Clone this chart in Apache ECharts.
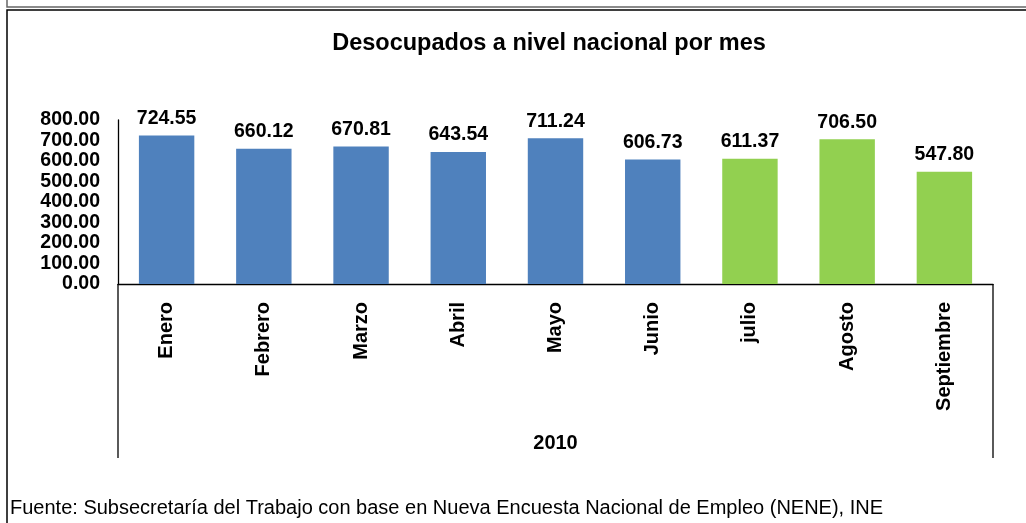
<!DOCTYPE html>
<html>
<head>
<meta charset="utf-8">
<script src="https://cdn.jsdelivr.net/npm/echarts@6/dist/echarts.min.js"></script>
<style>html,body{margin:0;padding:0;background:#fff}#c{width:1026px;height:523px}</style>
</head>
<body>
<div id="c"></div>
<script>
const categories = ['Enero','Febrero','Marzo','Abril','Mayo','Junio','julio','Agosto','Septiembre'];
const values = [724.55, 660.12, 670.81, 643.54, 711.24, 606.73, 611.37, 706.50, 547.80];
const yearLabel = '2010';
const titleText = 'Desocupados a nivel nacional por mes';
const sourceText = 'Fuente: Subsecretaría del Trabajo con base en Nueva Encuesta Nacional de Empleo (NENE), INE';

const FONT = '"Liberation Sans", Arial, sans-serif';
const GL = 118, GR = 33, GT = 120, GB = 239;
const W = 1026, H = 523;
const chart = echarts.init(document.getElementById('c'), null, {renderer: 'canvas'});
const frame = [
  {type: 'rect', shape: {x: 7, y: -10, width: W + 60, height: 17}, style: {fill: 'none', stroke: '#666', lineWidth: 1.5}},
  {type: 'rect', shape: {x: 7, y: 10, width: W + 60, height: H + 60}, style: {fill: 'none', stroke: '#000', lineWidth: 1.5}},
  {type: 'text', left: 10, top: 498, style: {text: sourceText, font: '20px ' + FONT, fill: '#000'}}
];
chart.setOption({
  animation: false,
  backgroundColor: '#fff',
  textStyle: {fontFamily: FONT},
  title: {
    text: titleText, left: 544, top: 27, textAlign: 'center',
    textStyle: {fontFamily: FONT, fontWeight: 'bold', fontSize: 23.5, color: '#000'}
  },
  grid: {left: GL, right: GR, top: GT, bottom: GB, containLabel: false},
  xAxis: {
    type: 'category', data: categories,
    name: yearLabel, nameLocation: 'middle', nameGap: 149,
    nameTextStyle: {fontFamily: FONT, fontWeight: 'bold', fontSize: 20, color: '#000'},
    axisLine: {show: true, lineStyle: {color: '#000', width: 1.3}},
    axisTick: {show: false},
    axisLabel: {rotate: 90, margin: 18, fontFamily: FONT, fontWeight: 'bold', fontSize: 20, color: '#000', interval: 0}
  },
  yAxis: {
    type: 'value', min: 0, max: 800, interval: 100,
    axisLine: {show: true, lineStyle: {color: '#000', width: 1.3}},
    axisTick: {show: false},
    splitLine: {show: false},
    axisLabel: {margin: 18, fontFamily: FONT, fontWeight: 'bold', fontSize: 19.5, color: '#000',
      formatter: v => v.toFixed(2)}
  },
  series: [{
    type: 'bar', data: values, barCategoryGap: '43%',
    itemStyle: {color: p => p.dataIndex < 6 ? '#4F81BD' : '#92D050'},
    label: {show: true, position: 'top', distance: 7, fontFamily: FONT, fontWeight: 'bold', fontSize: 19.5, color: '#000',
      formatter: p => p.value.toFixed(2)}
  }],
  graphic: frame
});
// group separator lines below the category axis, derived from the axis scales
const y0 = chart.convertToPixel({yAxisIndex: 0}, 0);
const xFirst = chart.convertToPixel({xAxisIndex: 0}, 0);
const band = chart.convertToPixel({xAxisIndex: 0}, 1) - xFirst;
const xLeft = xFirst - band / 2;
const xRight = chart.convertToPixel({xAxisIndex: 0}, categories.length - 1) + band / 2;
chart.setOption({graphic: frame.concat([
  {type: 'line', shape: {x1: xLeft, y1: y0, x2: xLeft, y2: y0 + 174}, style: {stroke: '#000', lineWidth: 1.3}},
  {type: 'line', shape: {x1: xRight, y1: y0, x2: xRight, y2: y0 + 174}, style: {stroke: '#000', lineWidth: 1.3}}
])});
</script>
</body>
</html>
